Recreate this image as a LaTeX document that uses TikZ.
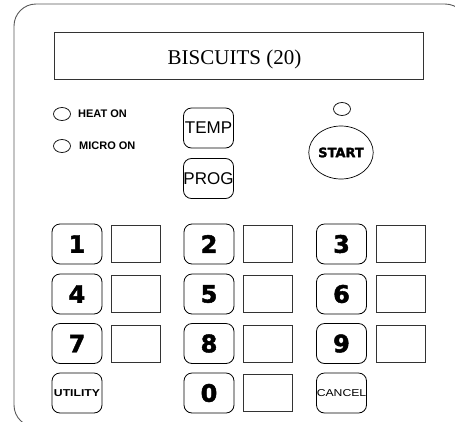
\documentclass[tikz,border=0pt]{standalone}
\usepackage{fontspec}
\setmainfont{Liberation Serif}
\setsansfont{Liberation Sans}
\newfontfamily\heavyfont[FakeBold=2]{DejaVu Sans}
\newfontfamily\widefont[FakeStretch=1.22]{Liberation Sans}
\usetikzlibrary{shapes.geometric}
\begin{document}
\begin{tikzpicture}
        [x=1pt,y=-1pt,
         panel_style/.style={draw=black!65,line width=0.9pt,rounded corners=22pt},
         display_style/.style={rectangle,draw=black!80,line width=0.8pt,minimum width=369pt,minimum height=47pt,inner sep=0pt},
         led_style/.style={ellipse,draw=black,line width=0.7pt,minimum width=17pt,minimum height=13pt,inner sep=0pt},
         label_style/.style={anchor=west,inner sep=0pt,font=\sffamily\bfseries\fontsize{11}{11}\selectfont},
         key_style/.style={rectangle,draw=black,line width=0.8pt,rounded corners=8pt,minimum width=50pt,minimum height=40pt,inner sep=0pt},
         digit_style/.style={key_style,font=\heavyfont\bfseries\fontsize{24}{24}\selectfont},
         word_style/.style={key_style,font=\sffamily\fontsize{17}{17}\selectfont},
         small_style/.style={key_style,font=\widefont\fontsize{10}{10}\selectfont},
         box_style/.style={rectangle,draw=black!80,line width=0.7pt,minimum width=49pt,minimum height=37pt,inner sep=0pt},
         start_style/.style={ellipse,draw=black,line width=0.7pt,minimum width=64pt,minimum height=53pt,inner sep=0pt,font=\heavyfont\bfseries\fontsize{13}{13}\selectfont}]
            \useasboundingbox (0,0) rectangle (455,421);
            % outer panel, cut off at the right and bottom
            \begin{scope}
                \clip (0,0) rectangle (455,421);
                \draw[panel_style] (14,4) rectangle (467,427);
            \end{scope}
            % display
            \node[display_style] (display) at (238.5,55.5) {};
            \node[font=\fontsize{21}{21}\selectfont] (display_text) at (234.5,59) {BISCUITS (20)};
            % lamps
            \node[led_style] (heat_led) at (62,114) {};
            \node[label_style] (heat_label) at (78,114) {HEAT ON};
            \node[led_style] (micro_led) at (62,146) {};
            \node[label_style] (micro_label) at (79,146) {MICRO ON};
            \node[led_style] (start_led) at (342,109) {};
            % function keys
            \node[word_style] (temp) at (208.5,128) {TEMP};
            \node[word_style] (prog) at (208.5,178.5) {PROG};
            \node[start_style] (start) at (341,152.5) {START};
            % keypad
            \node[digit_style] (k1) at (77,244) {1};
            \node[box_style] (b1) at (135.5,244) {};
            \node[digit_style] (k2) at (209,244) {2};
            \node[box_style] (b2) at (267.5,244) {};
            \node[digit_style] (k3) at (341.5,244) {3};
            \node[box_style] (b3) at (400.5,244) {};
            \node[digit_style] (k4) at (77,294) {4};
            \node[box_style] (b4) at (135.5,294) {};
            \node[digit_style] (k5) at (209,294) {5};
            \node[box_style] (b5) at (267.5,294) {};
            \node[digit_style] (k6) at (341.5,294) {6};
            \node[box_style] (b6) at (400.5,294) {};
            \node[digit_style] (k7) at (77,343.5) {7};
            \node[box_style] (b7) at (135.5,343.5) {};
            \node[digit_style] (k8) at (209,343.5) {8};
            \node[box_style] (b8) at (267.5,343.5) {};
            \node[digit_style] (k9) at (341.5,343.5) {9};
            \node[box_style] (b9) at (400.5,343.5) {};
            \node[small_style,font=\widefont\bfseries\fontsize{10}{10}\selectfont] (utility) at (77,393) {UTILITY};
            \node[digit_style] (k0) at (209,393) {0};
            \node[box_style] (b0) at (267.5,393) {};
            \node[small_style] (cancel) at (341.5,393) {CANCEL};
        \end{tikzpicture}
\end{document}
